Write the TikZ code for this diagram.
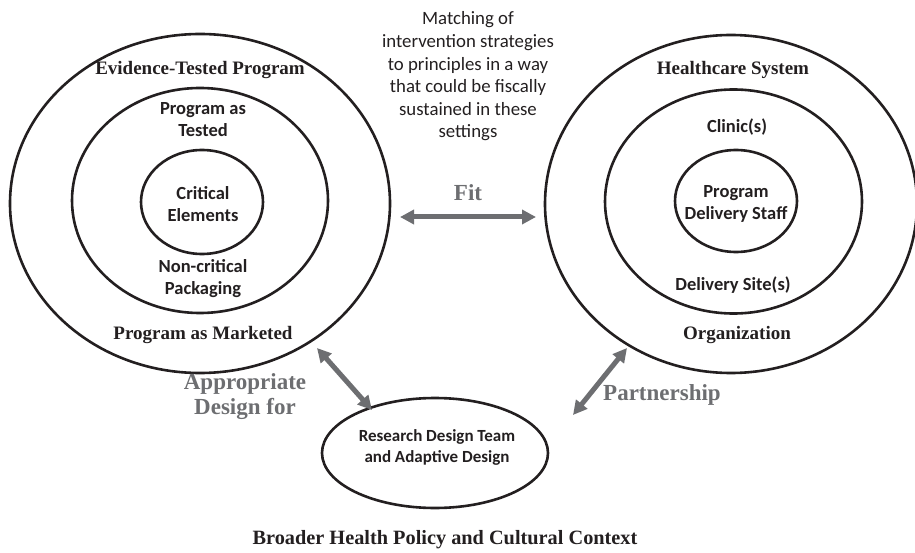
\documentclass[tikz,border=0pt]{standalone}
\usepackage{fontspec}
\setmainfont{Liberation Serif}
\setsansfont{Carlito}
\usetikzlibrary{shapes.geometric,arrows.meta}
\definecolor{ink}{HTML}{231F20}
\definecolor{linkgray}{HTML}{6D6E71}
\begin{document}
\begin{tikzpicture}[x=1pt,y=-1pt,
  ring/.style={ellipse, draw=ink, line width=2.6pt, inner sep=0pt},
  sflabel/.style={font=\sffamily\bfseries\fontsize{18.5}{22}\selectfont, align=center, text=ink, inner sep=0pt},
  rmlabel/.style={font=\bfseries\fontsize{19}{22}\selectfont, text=ink, inner sep=0pt},
  graylabel/.style={font=\bfseries\fontsize{23}{25}\selectfont, text=linkgray, align=center, inner sep=0pt},
  link/.style={draw=linkgray, line width=5pt,
    {Triangle[length=14pt,width=14pt]}-{Triangle[length=14pt,width=14pt]}},
]
\useasboundingbox (0,0) rectangle (915,553);

% Program side
\node[ring, minimum width=380pt, minimum height=339pt] (progOuter) at (200,203.5) {};
\node[ring, minimum width=256pt, minimum height=225pt] (progMid) at (200,200.5) {};
\node[ring, minimum width=122pt, minimum height=104pt] (progIn) at (202,202) {};
\node[rmlabel] (evid) at (200,70) {Evidence-Tested Program};
\node[sflabel] (tested) at (203,120) {Program as\\Tested};
\node[sflabel] (crit) at (203,204) {Critical\\Elements};
\node[sflabel] (noncrit) at (203,278.5) {Non-critical\\Packaging};
\node[rmlabel] (market) at (203,335) {Program as Marketed};

% Healthcare side
\node[ring, minimum width=372pt, minimum height=338pt] (hcOuter) at (731,204) {};
\node[ring, minimum width=257pt, minimum height=224pt] (hcMid) at (733.5,201.5) {};
\node[ring, minimum width=122pt, minimum height=102pt] (hcIn) at (736,201) {};
\node[rmlabel] (hcsys) at (733,70) {Healthcare System};
\node[sflabel] (clinic) at (737,127) {Clinic(s)};
\node[sflabel] (staff) at (736,204) {Program\\Delivery Staff};
\node[sflabel] (site) at (733,285) {Delivery Site(s)};
\node[rmlabel] (org) at (737,335) {Organization};

% Research team
\node[ring, minimum width=226pt, minimum height=110pt] (team) at (435,453) {};
\node[font=\sffamily\bfseries\fontsize{17}{21}\selectfont, align=center, text=ink, inner sep=0pt]
  (teamtxt) at (437,447.5) {Research Design Team\\and Adaptive Design};

% Fit description
\node[font=\sffamily\fontsize{18.8}{22.6}\selectfont, align=center, text=ink, inner sep=0pt]
  (match) at (468,76.5) {Matching of\\intervention strategies\\to principles in a way\\that could be fiscally\\sustained in these\\settings};

% Links
\coordinate (fitL) at (400,217);
\coordinate (fitR) at (536,217);
\coordinate (adP) at (317,348);
\coordinate (adT) at (372,410);
\coordinate (ptH) at (627,348);
\coordinate (ptT) at (573,415);
\draw[link] (fitL) -- (fitR);
\draw[link] (adP) -- (adT);
\draw[link] (ptH) -- (ptT);
\node[graylabel] (fit) at (468,193) {Fit};
\node[graylabel] (approp) at (245,397) {Appropriate\\Design for};
\node[graylabel] (partner) at (662,395) {Partnership};

% Context caption
\node[font=\bfseries\fontsize{20.3}{24}\selectfont, text=ink, inner sep=0pt] (context) at (445,540) {Broader Health Policy and Cultural Context};
\end{tikzpicture}
\end{document}
